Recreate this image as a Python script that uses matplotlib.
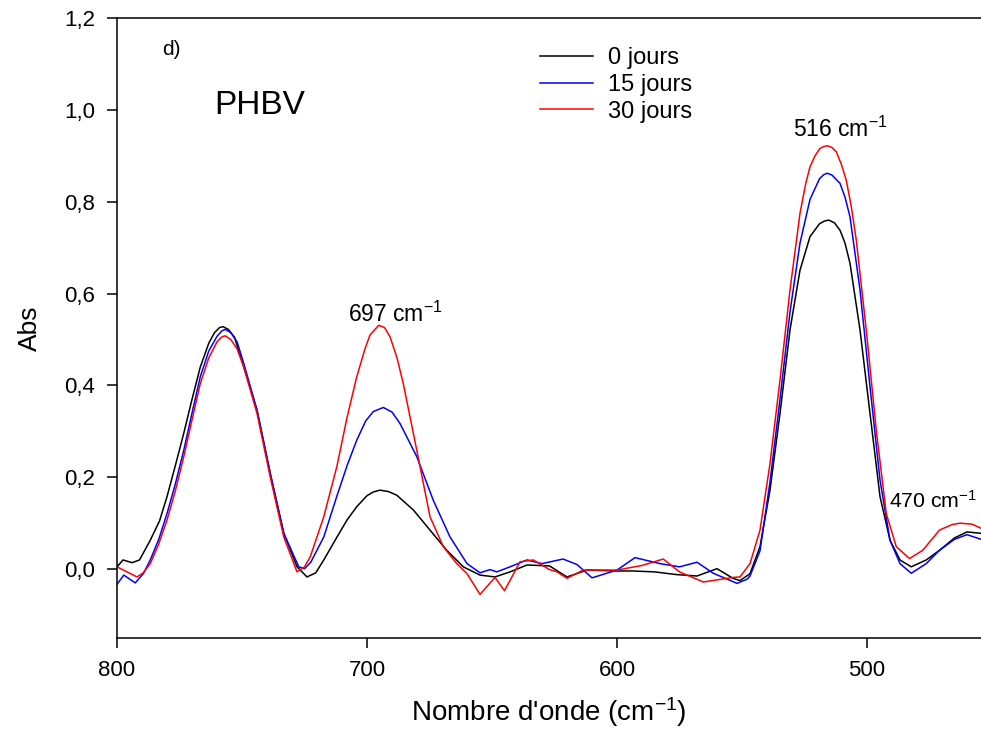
import matplotlib
matplotlib.use("Agg")
import matplotlib.pyplot as plt
from matplotlib.ticker import FuncFormatter

plt.rcParams['font.family'] = ['Liberation Sans', 'DejaVu Sans']
plt.rcParams['mathtext.default'] = 'regular'

# 0 jours
wn_0 = [800, 797.6, 794, 791, 786.7, 783, 780, 776.7, 773.3, 770, 766.7, 763.3, 761, 759, 757.6,
        755.5, 753, 749.3, 744, 738.7, 733.3, 728, 724, 720.5, 717.3, 712, 708, 704.1, 700, 697.5, 694.8,
        691.5, 688.1, 681.5, 674.8, 668.1, 661.5, 654.8, 648.8, 642.8, 636, 627, 620, 612, 600,
        593.6, 585, 576, 568, 560, 553.6, 550.8, 546.8, 542.8, 538.8, 534.8, 530.8, 526.8,
        522.8, 519, 517, 515.3, 513, 510.8, 508.8, 506.8, 502.8, 498.8, 494.8, 490.8, 486.8, 482.3, 476.3,
        471, 465, 460, 454.4]
abs_0 = [0.005, 0.02, 0.014, 0.02, 0.063, 0.105, 0.158, 0.225, 0.296, 0.37, 0.44, 0.492, 0.515, 0.526, 0.528,
         0.522, 0.505, 0.44, 0.346, 0.208, 0.078, 0.005, -0.017, -0.008, 0.02, 0.07, 0.107, 0.136, 0.16, 0.168, 0.172,
         0.169, 0.161, 0.129, 0.085, 0.041, 0.005, -0.013, -0.017, -0.006, 0.009, 0.007, -0.017, -0.002, -0.004,
         -0.004, -0.006, -0.012, -0.015, 0.001, -0.02, -0.025, -0.01, 0.049, 0.172, 0.339, 0.521, 0.651,
         0.724, 0.752, 0.758, 0.76, 0.754, 0.738, 0.71, 0.666, 0.521, 0.339, 0.158, 0.063, 0.02, 0.005, 0.02,
         0.041, 0.068, 0.081, 0.078]

# 15 jours
wn_15 = [800, 797.3, 792.7, 789.5, 786.7, 783.3, 780, 776.7, 773.3, 770, 766.7, 763.3, 760, 758, 756.7,
         754.5, 752, 749.3, 744, 738.7, 733.3, 727.3, 725, 722.5, 717.3, 712, 708, 704.1, 700.5, 697.5, 693.5,
         690, 686.8, 680.1, 673.5, 666.8, 660, 654.8, 650.8, 648.1, 642.8, 636, 630, 621.6, 616, 610,
         600, 592.8, 582.8, 575, 568, 561.5, 552, 548, 546.8, 542.8, 538.8, 534.8, 530.8, 526.8,
         522.8, 519, 517.3, 515.9, 514, 510.8, 508.8, 506.8, 502.8, 498.8, 494.8, 490.8, 486.8, 482.3, 476.3, 471,
         465, 460, 454.4]
abs_15 = [-0.033, -0.013, -0.03, -0.01, 0.02, 0.065, 0.121, 0.185, 0.259, 0.34, 0.419, 0.475, 0.507, 0.519, 0.522,
          0.515, 0.495, 0.448, 0.346, 0.208, 0.078, 0.005, 0.001, 0.015, 0.07, 0.16, 0.225, 0.281, 0.323, 0.343, 0.352,
          0.342, 0.317, 0.245, 0.15, 0.07, 0.012, -0.008, -0.001, -0.006, 0.005, 0.02, 0.012, 0.022, 0.01, -0.019,
          -0.002, 0.025, 0.012, 0.005, 0.015, -0.009, -0.031, -0.022, -0.015, 0.04, 0.19, 0.37, 0.56, 0.71,
          0.805, 0.85, 0.859, 0.862, 0.858, 0.84, 0.81, 0.767, 0.608, 0.397, 0.194, 0.063, 0.012, -0.009, 0.012, 0.041,
          0.065, 0.075, 0.065]

# 30 jours
wn_30 = [800, 796, 792, 789.5, 786.7, 783.3, 780, 776.7, 773.3, 770, 766.7, 763.3, 760, 758, 756.7,
         754.5, 752, 749.3, 744, 738.7, 733.3, 728, 725, 722.7, 717.3, 712, 708, 704.1, 700.8, 698.8, 695.3,
         693, 690.8, 688, 685.5, 680.1, 674.8, 669.5, 664.1, 660, 654.8, 648.8, 645, 638.8, 633.5, 627,
         624, 620, 613.5, 600, 590, 581.5, 575, 565.5, 553.5, 550.8, 546.8, 542.8, 538.8, 534.8,
         530.8, 526.8, 524.5, 522.8, 520.8, 518.8, 517.3, 515.9, 514, 512.3, 510.3, 508.3, 506.3, 504.3,
         500.3, 496.3, 492.3, 488.3, 483, 477.7, 471, 466, 462.8, 458, 454.4]
abs_30 = [0.005, -0.006, -0.017, -0.008, 0.012, 0.055, 0.107, 0.17, 0.245, 0.325, 0.404, 0.46, 0.495, 0.506, 0.508,
          0.5, 0.48, 0.44, 0.339, 0.2, 0.07, -0.006, 0.005, 0.027, 0.114, 0.225, 0.33, 0.419, 0.48, 0.51, 0.531,
          0.526, 0.506, 0.46, 0.404, 0.259, 0.114, 0.049, 0.012, -0.01, -0.055, -0.018, -0.047, 0.016, 0.02, -0.001,
          -0.006, -0.02, -0.002, -0.002, 0.008, 0.022, -0.006, -0.028, -0.018, -0.017, 0.012, 0.085, 0.23, 0.412,
          0.608, 0.775, 0.84, 0.876, 0.9, 0.916, 0.92, 0.922, 0.918, 0.909, 0.882, 0.847, 0.79, 0.717,
          0.521, 0.303, 0.121, 0.049, 0.023, 0.041, 0.085, 0.097, 0.1, 0.098, 0.089]

fig = plt.figure(figsize=(9.81, 7.30), dpi=100)
ax = fig.add_axes([0.1193, 0.126, 0.8807, 0.8493])

lw = 1.1
ax.plot(wn_0, abs_0, color='black', lw=lw, label='0 jours')
ax.plot(wn_15, abs_15, color='blue', lw=lw, label='15 jours')
ax.plot(wn_30, abs_30, color='red', lw=lw, label='30 jours')

ax.set_xlim(800, 454.4)
ax.set_ylim(-0.15, 1.2)
ax.set_xticks([800, 700, 600, 500])
ax.set_yticks([0.0, 0.2, 0.4, 0.6, 0.8, 1.0, 1.2])
ax.yaxis.set_major_formatter(FuncFormatter(lambda v, p: f"{v:.1f}".replace('.', ',')))
ax.tick_params(direction='out', length=7, width=1.1, labelsize=16, pad=9)

ax.spines['right'].set_visible(False)
for s in ['left', 'bottom', 'top']:
    ax.spines[s].set_linewidth(1.1)

ax.set_xlabel("Nombre d'onde (cm$^{-1}$)", fontsize=20, labelpad=10)
ax.set_ylabel("Abs", fontsize=19, labelpad=16,
              family=['Liberation Sans Narrow', 'Liberation Sans', 'DejaVu Sans'])

ax.text(0.052, 0.94, "d)", transform=ax.transAxes, fontsize=15)
ax.text(0.113, 0.845, "PHBV", transform=ax.transAxes, fontsize=24)

ax.text(688.5, 0.538, "697 cm$^{-1}$", ha='center', va='baseline', fontsize=16.5)
ax.text(510.8, 0.942, "516 cm$^{-1}$", ha='center', va='baseline', fontsize=16.5)
ax.text(491.2, 0.133, "470 cm$^{-1}$", ha='left', va='baseline', fontsize=15.3, clip_on=False)

ax.legend(loc='upper left', bbox_to_anchor=(0.4896, 0.953), frameon=False, fontsize=17,
          handlelength=2.25, handletextpad=0.64, labelspacing=0.2, borderaxespad=0, borderpad=0)

fig.savefig("out.png", dpi=100)
